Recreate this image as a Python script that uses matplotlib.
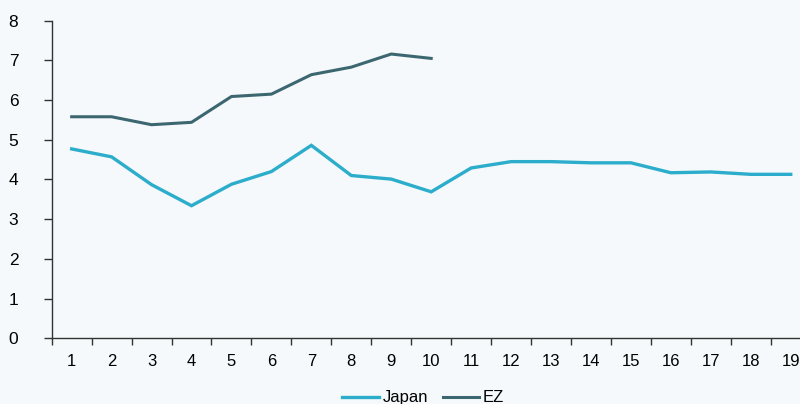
import matplotlib.pyplot as plt
import numpy as np

plt.rcParams['font.family'] = ['Liberation Sans', 'DejaVu Sans']

# Series values
periods = list(range(1, 20))
japan = [4.77, 4.57, 3.87, 3.34, 3.88, 4.20, 4.86, 4.10, 4.01, 3.69,
         4.29, 4.45, 4.45, 4.42, 4.42, 4.17, 4.19, 4.13, 4.13]
ez = [5.58, 5.58, 5.38, 5.44, 6.09, 6.15, 6.64, 6.83, 7.16, 7.05]

bg = '#f5f9fb'
fig = plt.figure(figsize=(8, 4.04), dpi=100, facecolor=bg)
ax = fig.add_axes([0.0646, 0.1626, 0.9488, 0.7862], facecolor=bg)

x = np.arange(len(periods))
ax.plot(x, japan, color='#2badcb', lw=2.4, label='Japan', solid_joinstyle='miter')
ax.plot(np.arange(len(ez)), ez, color='#3d6770', lw=2.2, label='EZ', solid_joinstyle='miter')

ax.set_xlim(-0.5, len(periods) - 0.5)
ax.set_ylim(0, 8)
ax.set_yticks(range(0, 9))

# category labels centred, tick marks between categories
ax.set_xticks(np.arange(len(periods) + 1) - 0.5)
ax.set_xticklabels([])
ax.set_xticks(x, minor=True)
ax.set_xticklabels([str(p) for p in periods], minor=True)
ax.tick_params(axis='x', which='major', length=5, width=1, color='#333333', direction='out')
ax.tick_params(axis='x', which='minor', length=0, pad=11, labelsize=12)
ax.tick_params(axis='y', length=6, width=1, color='#333333', pad=18, labelsize=12.5)

for side in ['top', 'right']:
    ax.spines[side].set_visible(False)
for side in ['left', 'bottom']:
    ax.spines[side].set_color('#333333')
    ax.spines[side].set_linewidth(1)

fig.legend(loc='center', bbox_to_anchor=(0.529, 0.015), ncol=2, frameon=False,
           fontsize=12, handlelength=2.2, handletextpad=0.2, columnspacing=0.9)

fig.savefig('out.png', dpi=100, facecolor=bg)
